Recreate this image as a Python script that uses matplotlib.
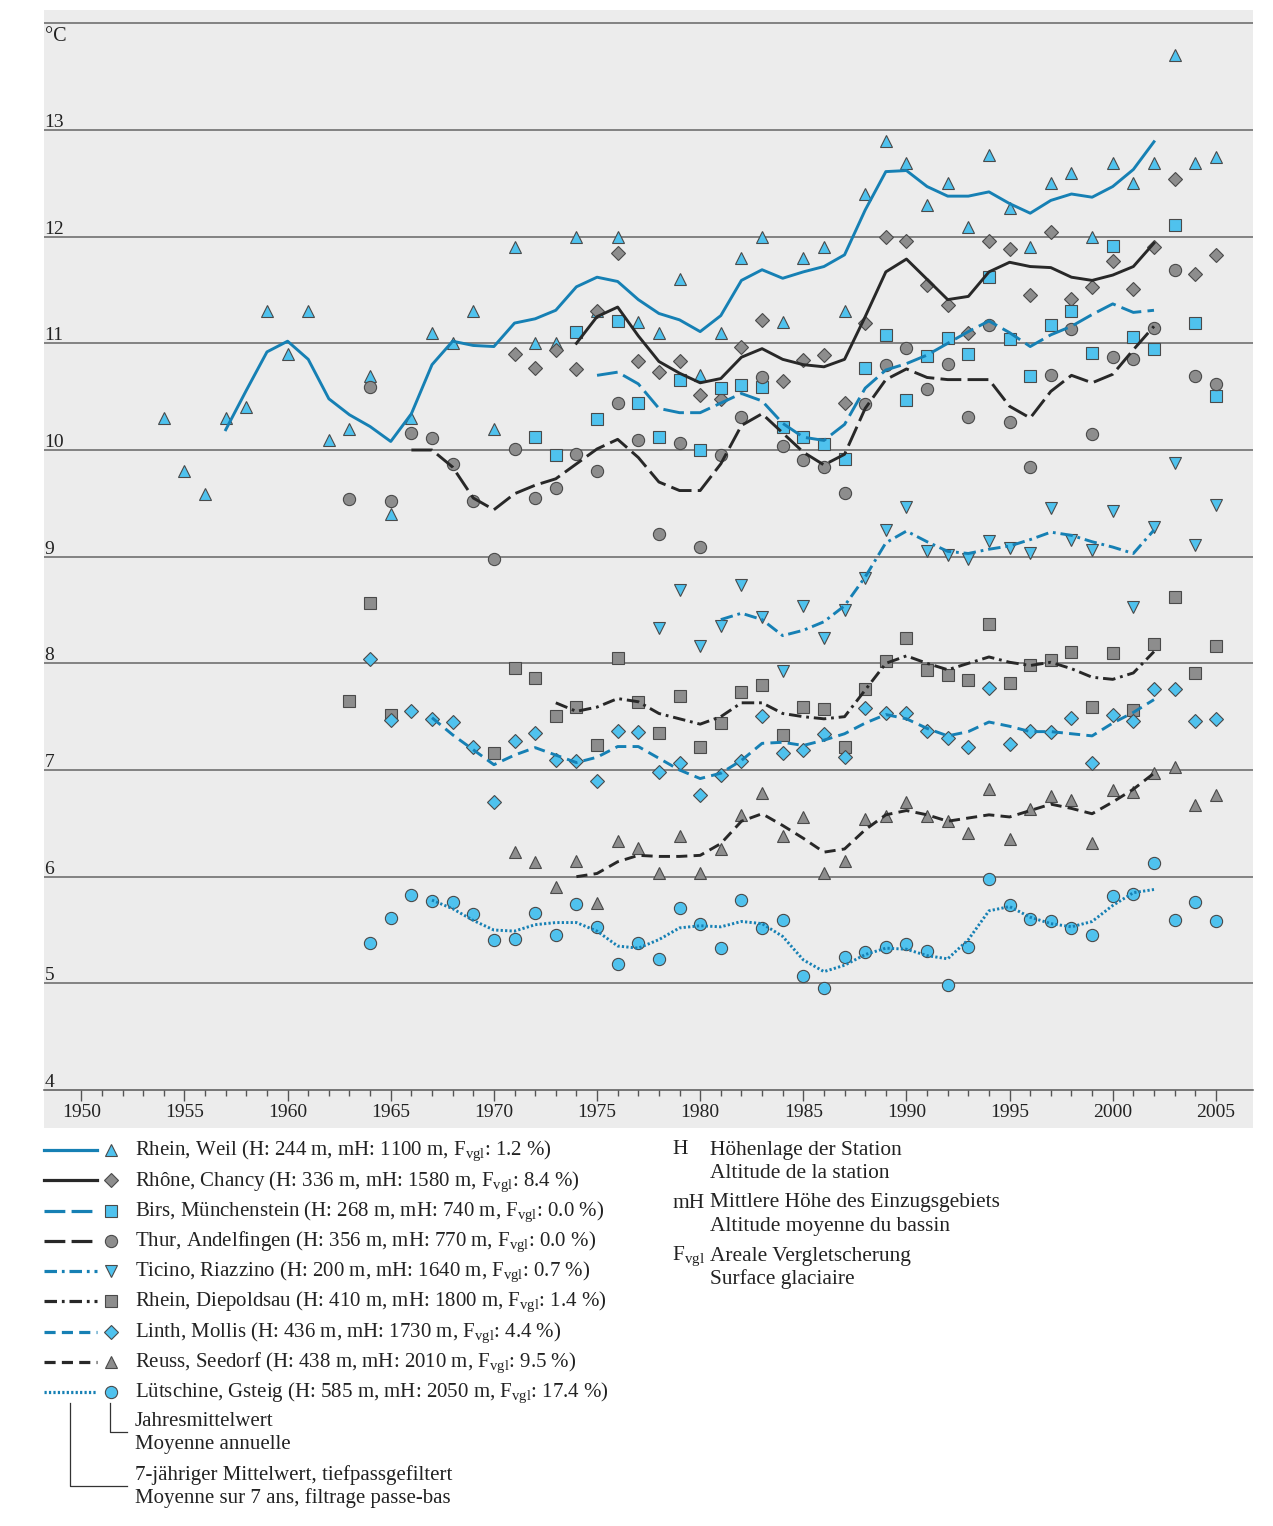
import matplotlib
matplotlib.use("Agg")
import matplotlib.pyplot as plt

plt.rcParams['font.family'] = ['Liberation Serif', 'DejaVu Serif']
plt.rcParams['mathtext.fontset'] = 'custom'
plt.rcParams['mathtext.rm'] = 'Liberation Serif'
plt.rcParams['mathtext.it'] = 'Liberation Serif:italic'
plt.rcParams['lines.scale_dashes'] = False

# ---------------- data ----------------
rhein_weil_years = list(range(1954, 2006))
rhein_weil_annual = [10.30, 9.80, 9.59, 10.30, 10.40, 11.30, 10.90, 11.30, 10.09, 10.20,
                     10.69, 9.40, 10.30, 11.10, 11.00, 11.30, 10.20, 11.90, 11.00, 11.00,
                     12.00, 11.30, 12.00, 11.20, 11.10, 11.60, 10.70, 11.10, 11.80, 12.00,
                     11.20, 11.80, 11.90, 11.30, 12.40, 12.90, 12.69, 12.30, 12.50, 12.09,
                     12.77, 12.27, 11.90, 12.50, 12.60, 12.00, 12.69, 12.50, 12.69, 13.70,
                     12.69, 12.75]
rhein_weil_smooth_years = list(range(1957, 2003))
rhein_weil_smooth = [10.19, 10.56, 10.92, 11.02, 10.85, 10.48, 10.33, 10.22, 10.08, 10.34,
                     10.80, 11.02, 10.98, 10.97, 11.19, 11.23, 11.31, 11.53, 11.62, 11.58,
                     11.41, 11.28, 11.22, 11.11, 11.26, 11.59, 11.69, 11.61, 11.67, 11.72,
                     11.83, 12.25, 12.61, 12.62, 12.47, 12.38, 12.38, 12.42, 12.31, 12.22,
                     12.34, 12.40, 12.37, 12.47, 12.63, 12.89]

rhone_years = list(range(1971, 2006))
rhone_annual = [10.90, 10.77, 10.94, 10.76, 11.30, 11.85, 10.83, 10.73, 10.83, 10.52,
                10.48, 10.97, 11.22, 10.65, 10.84, 10.89, 10.44, 11.19, 12.00, 11.96,
                11.55, 11.36, 11.10, 11.96, 11.88, 11.45, 12.04, 11.42, 11.53, 11.77,
                11.51, 11.90, 12.54, 11.65, 11.83]
rhone_smooth_years = list(range(1974, 2003))
rhone_smooth = [11.00, 11.25, 11.34, 11.07, 10.83, 10.72, 10.63, 10.67, 10.87, 10.95,
                10.85, 10.80, 10.78, 10.85, 11.25, 11.67, 11.79, 11.60, 11.41, 11.44,
                11.67, 11.76, 11.72, 11.71, 11.62, 11.59, 11.64, 11.72, 11.94]

birs_years = list(range(1972, 2006))
birs_annual = [10.12, 9.95, 11.11, 10.29, 11.21, 10.44, 10.12, 10.66, 10.00, 10.58,
               10.61, 10.59, 10.22, 10.12, 10.06, 9.92, 10.77, 11.08, 10.47, 10.88,
               11.05, 10.90, 11.62, 11.04, 10.69, 11.17, 11.30, 10.91, 11.91, 11.06,
               10.95, 12.11, 11.19, 10.51]
birs_smooth_years = list(range(1975, 2003))
birs_smooth = [10.70, 10.73, 10.62, 10.39, 10.35, 10.35, 10.44, 10.53, 10.46, 10.25,
               10.12, 10.09, 10.24, 10.58, 10.75, 10.81, 10.89, 11.00, 11.11, 11.21,
               11.10, 10.97, 11.08, 11.16, 11.27, 11.37, 11.29, 11.31]

thur_years = list(range(1963, 2006))
thur_annual = [9.54, 10.59, 9.52, 10.16, 10.11, 9.87, 9.52, 8.98, 10.01, 9.55,
               9.64, 9.96, 9.80, 10.44, 10.09, 9.21, 10.07, 9.09, 9.95, 10.31,
               10.68, 10.04, 9.91, 9.84, 9.60, 10.43, 10.80, 10.96, 10.57, 10.81,
               10.31, 11.17, 10.26, 9.84, 10.70, 11.13, 10.15, 10.87, 10.85, 11.14,
               11.69, 10.69, 10.62]
thur_smooth_years = list(range(1966, 2003))
thur_smooth = [10.00, 10.00, 9.84, 9.55, 9.44, 9.59, 9.67, 9.73, 9.87, 10.01,
               10.10, 9.93, 9.70, 9.62, 9.62, 9.87, 10.23, 10.34, 10.16, 9.98,
               9.86, 9.96, 10.39, 10.66, 10.76, 10.68, 10.66, 10.66, 10.66, 10.41,
               10.30, 10.55, 10.70, 10.63, 10.71, 10.94, 11.16]

ticino_years = list(range(1978, 2006))
ticino_annual = [8.33, 8.69, 8.16, 8.35, 8.73, 8.43, 7.93, 8.54, 8.24, 8.50,
                 8.80, 9.25, 9.47, 9.05, 9.02, 8.98, 9.15, 9.08, 9.03, 9.46,
                 9.16, 9.06, 9.43, 8.53, 9.28, 9.88, 9.11, 9.48]
ticino_smooth_years = list(range(1981, 2003))
ticino_smooth = [8.41, 8.47, 8.41, 8.26, 8.31, 8.39, 8.54, 8.81, 9.13, 9.24,
                 9.14, 9.05, 9.03, 9.07, 9.10, 9.16, 9.23, 9.20, 9.14, 9.09,
                 9.03, 9.25]

diepoldsau_years = [1963, 1964, 1965] + list(range(1970, 2006))
diepoldsau_annual = [7.65, 8.57, 7.52,
                     7.16, 7.96, 7.86, 7.51, 7.59, 7.23, 8.05, 7.64, 7.35, 7.69,
                     7.22, 7.44, 7.73, 7.80, 7.33, 7.59, 7.57, 7.22, 7.76, 8.02,
                     8.24, 7.94, 7.89, 7.84, 8.37, 7.82, 7.98, 8.03, 8.11, 7.59,
                     8.10, 7.56, 8.18, 8.62, 7.91, 8.16]
diepoldsau_smooth_years = list(range(1973, 2003))
diepoldsau_smooth = [7.63, 7.55, 7.59, 7.67, 7.64, 7.53, 7.48, 7.43, 7.50, 7.63,
                     7.63, 7.53, 7.50, 7.48, 7.50, 7.75, 8.00, 8.07, 8.00, 7.94,
                     8.00, 8.06, 8.01, 7.98, 8.01, 7.95, 7.87, 7.85, 7.91, 8.11]

linth_years = list(range(1964, 2006))
linth_annual = [8.04, 7.47, 7.55, 7.48, 7.45, 7.22, 6.70, 7.27, 7.35, 7.09,
                7.08, 6.90, 7.37, 7.36, 6.98, 7.07, 6.77, 6.95, 7.08, 7.51,
                7.16, 7.19, 7.34, 7.12, 7.58, 7.53, 7.53, 7.37, 7.30, 7.22,
                7.77, 7.24, 7.37, 7.36, 7.49, 7.07, 7.52, 7.46, 7.76, 7.76,
                7.46, 7.48]
linth_smooth_years = list(range(1967, 2003))
linth_smooth = [7.49, 7.33, 7.19, 7.05, 7.14, 7.21, 7.14, 7.07, 7.12, 7.22,
                7.22, 7.11, 7.00, 6.92, 6.97, 7.09, 7.25, 7.26, 7.23, 7.28,
                7.34, 7.44, 7.52, 7.48, 7.39, 7.32, 7.36, 7.45, 7.41, 7.36,
                7.36, 7.34, 7.32, 7.44, 7.54, 7.66]

reuss_years = list(range(1971, 2006))
reuss_annual = [6.23, 6.14, 5.90, 6.15, 5.75, 6.33, 6.27, 6.03, 6.38, 6.03,
                6.26, 6.58, 6.78, 6.38, 6.56, 6.03, 6.15, 6.54, 6.57, 6.70,
                6.57, 6.52, 6.41, 6.82, 6.35, 6.63, 6.76, 6.72, 6.32, 6.81,
                6.79, 6.97, 7.03, 6.67, 6.77]
reuss_smooth_years = list(range(1974, 2003))
reuss_smooth = [6.00, 6.03, 6.14, 6.20, 6.19, 6.19, 6.20, 6.31, 6.52, 6.59,
                6.48, 6.36, 6.23, 6.26, 6.44, 6.58, 6.62, 6.58, 6.52, 6.55,
                6.58, 6.56, 6.62, 6.68, 6.64, 6.59, 6.70, 6.82, 6.97]

luetschine_years = list(range(1964, 2006))
luetschine_annual = [5.38, 5.61, 5.83, 5.77, 5.76, 5.65, 5.41, 5.42, 5.66, 5.45,
                     5.74, 5.53, 5.18, 5.38, 5.23, 5.71, 5.56, 5.33, 5.78, 5.52,
                     5.59, 5.07, 4.96, 5.25, 5.29, 5.34, 5.37, 5.30, 4.98, 5.34,
                     5.98, 5.73, 5.60, 5.58, 5.52, 5.45, 5.82, 5.84, 6.13, 5.59,
                     5.76, 5.58]
luetschine_smooth_years = list(range(1967, 2003))
luetschine_smooth = [5.78, 5.70, 5.59, 5.50, 5.49, 5.55, 5.57, 5.57, 5.49, 5.35,
                     5.33, 5.41, 5.52, 5.54, 5.53, 5.58, 5.56, 5.44, 5.22, 5.11,
                     5.17, 5.27, 5.33, 5.32, 5.26, 5.23, 5.41, 5.68, 5.72, 5.62,
                     5.56, 5.53, 5.58, 5.73, 5.85, 5.88]

labels = [
    'Rhein, Weil (H: 244 m, mH: 1100 m, F$_{\\mathrm{vgl}}$: 1.2 %)',
    'Rhône, Chancy (H: 336 m, mH: 1580 m, F$_{\\mathrm{vgl}}$: 8.4 %)',
    'Birs, Münchenstein (H: 268 m, mH: 740 m, F$_{\\mathrm{vgl}}$: 0.0 %)',
    'Thur, Andelfingen (H: 356 m, mH: 770 m, F$_{\\mathrm{vgl}}$: 0.0 %)',
    'Ticino, Riazzino (H: 200 m, mH: 1640 m, F$_{\\mathrm{vgl}}$: 0.7 %)',
    'Rhein, Diepoldsau (H: 410 m, mH: 1800 m, F$_{\\mathrm{vgl}}$: 1.4 %)',
    'Linth, Mollis (H: 436 m, mH: 1730 m, F$_{\\mathrm{vgl}}$: 4.4 %)',
    'Reuss, Seedorf (H: 438 m, mH: 2010 m, F$_{\\mathrm{vgl}}$: 9.5 %)',
    'Lütschine, Gsteig (H: 585 m, mH: 2050 m, F$_{\\mathrm{vgl}}$: 17.4 %)',
]

# ---------------- styles ----------------
BLUE = '#1680b4'
LIGHT = '#4fc2ee'
GREY = '#8d8d8d'
BLACK = '#282828'
EDGE = '#4a4a4a'
BG = '#ececec'
TXT = '#222222'

LONG = (0, (15, 4.5))
MED = (0, (8, 4.5))
DASHDOT = (0, (9, 3.5, 2, 3.5))
DOT = (0, (1.6, 1.6))

series = [
    (rhein_weil_years, rhein_weil_annual, rhein_weil_smooth_years, rhein_weil_smooth, BLUE, '-', '^', LIGHT, 9.0),
    (rhone_years, rhone_annual, rhone_smooth_years, rhone_smooth, BLACK, '-', 'D', GREY, 7.4),
    (birs_years, birs_annual, birs_smooth_years, birs_smooth, BLUE, LONG, 's', LIGHT, 8.2),
    (thur_years, thur_annual, thur_smooth_years, thur_smooth, BLACK, LONG, 'o', GREY, 8.8),
    (ticino_years, ticino_annual, ticino_smooth_years, ticino_smooth, BLUE, DASHDOT, 'v', LIGHT, 9.0),
    (diepoldsau_years, diepoldsau_annual, diepoldsau_smooth_years, diepoldsau_smooth, BLACK, DASHDOT, 's', GREY, 8.2),
    (linth_years, linth_annual, linth_smooth_years, linth_smooth, BLUE, MED, 'D', LIGHT, 7.4),
    (reuss_years, reuss_annual, reuss_smooth_years, reuss_smooth, BLACK, MED, '^', GREY, 9.0),
    (luetschine_years, luetschine_annual, luetschine_smooth_years, luetschine_smooth, BLUE, DOT, 'o', LIGHT, 8.8),
]

W, H = 1273, 1526
fig = plt.figure(figsize=(W / 100, H / 100), dpi=100)
fig.patch.set_facecolor('white')

x0, x1, y0, y1 = 44, 1253, 10, 1128
ax = fig.add_axes([x0 / W, 1 - y1 / H, (x1 - x0) / W, (y1 - y0) / H])
ax.set_facecolor(BG)
ax.set_xlim(1948.19, 2006.80)
ax.set_ylim(3.644, 14.125)

for v in range(5, 15):
    ax.axhline(v, color='#6a6a6a', lw=1.15, zorder=1)

for sp in ['top', 'right', 'left']:
    ax.spines[sp].set_visible(False)
ax.spines['bottom'].set_position(('data', 4))
ax.spines['bottom'].set_color('#555555')
ax.spines['bottom'].set_linewidth(1.1)

ax.set_xticks(list(range(1950, 2006, 5)))
ax.set_xticks(list(range(1950, 2006)), minor=True)
ax.tick_params(axis='x', which='major', length=8, width=1.0, color='#555555',
               labelsize=14, pad=2, labelcolor=TXT)
ax.tick_params(axis='x', which='minor', length=4.5, width=1.0, color='#555555')
ax.set_yticks([])

for v in range(4, 14):
    ax.text(1948.22, v - 0.01, str(v), ha='left', va='bottom', fontsize=14, color=TXT)
ax.text(1948.22, 13.97, '°C', ha='left', va='top', fontsize=14.5, color=TXT)

for (yrs, ann, syrs, sm, lc, ls, mk, fc, ms) in series:
    ax.plot(yrs, ann, linestyle='none', marker=mk, markersize=ms, markerfacecolor=fc,
            markeredgecolor=EDGE, markeredgewidth=0.8, zorder=3)
for (yrs, ann, syrs, sm, lc, ls, mk, fc, ms) in series:
    ax.plot(syrs, sm, color=lc, linestyle=ls, lw=2.1, zorder=4)

# ---------------- legend (pixel coordinates overlay) ----------------
lg = fig.add_axes([0, 0, 1, 1])
lg.set_xlim(0, W)
lg.set_ylim(H, 0)
lg.axis('off')
lg.patch.set_alpha(0)

FS = 15
row0, dy = 1150, 30.25
for i, (s, lab) in enumerate(zip(series, labels)):
    yrs, ann, syrs, sm, lc, ls, mk, fc, ms = s
    yy = row0 + i * dy
    lg.plot([44, 97], [yy, yy], color=lc, linestyle=ls, lw=2.3)
    lg.plot([111], [yy], marker=mk, markersize=ms, markerfacecolor=fc,
            markeredgecolor=EDGE, markeredgewidth=0.8, linestyle='none')
    lg.text(135, yy + 1, lab, ha='left', va='center', fontsize=FS, color=TXT)

lg.plot([110, 110, 127], [1403, 1432, 1432], color='#333333', lw=0.9)
lg.plot([70, 70, 127], [1403, 1486, 1486], color='#333333', lw=0.9)
lg.text(135, 1422, 'Jahresmittelwert', ha='left', va='center', fontsize=FS, color=TXT)
lg.text(135, 1445, 'Moyenne annuelle', ha='left', va='center', fontsize=FS, color=TXT)
lg.text(135, 1475, '7-jähriger Mittelwert, tiefpassgefiltert', ha='left', va='center', fontsize=FS, color=TXT)
lg.text(135, 1498, 'Moyenne sur 7 ans, filtrage passe-bas', ha='left', va='center', fontsize=FS, color=TXT)

FS2 = 15.4
abbr = [('H', 'Höhenlage der Station', 'Altitude de la station', 1150),
        ('mH', 'Mittlere Höhe des Einzugsgebiets', 'Altitude moyenne du bassin', 1203),
        ('F$_{\\mathrm{vgl}}$', 'Areale Vergletscherung', 'Surface glaciaire', 1256)]
for a, de, fr, yy in abbr:
    lg.text(672, yy, a, ha='left', va='center', fontsize=FS2, color=TXT)
    lg.text(710, yy, de, ha='left', va='center', fontsize=FS2, color=TXT)
    lg.text(710, yy + 23, fr, ha='left', va='center', fontsize=FS2, color=TXT)

fig.savefig('out.png', dpi=100, facecolor='white')
